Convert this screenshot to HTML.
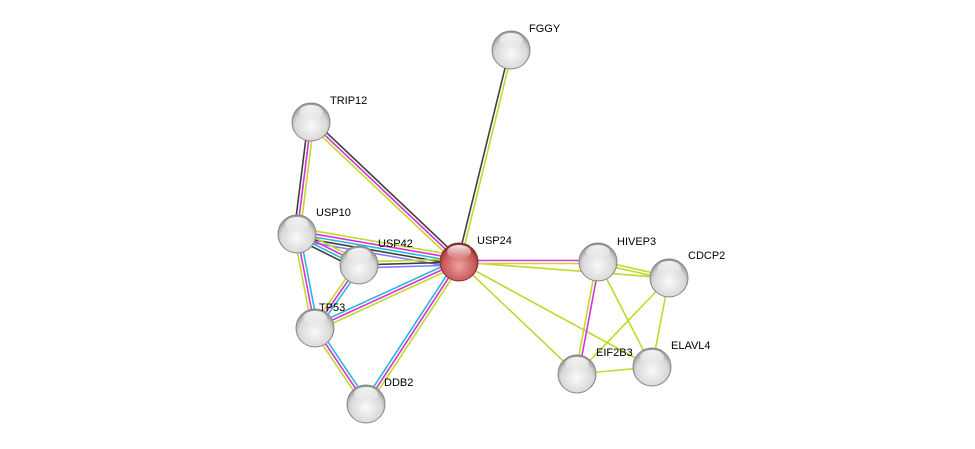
<!DOCTYPE html>
<html><head><meta charset="utf-8"><style>
html,body{margin:0;padding:0;background:#fff;width:975px;height:449px;overflow:hidden}
text{font-family:"Liberation Sans",sans-serif;font-size:11px;fill:#000}
</style></head><body>
<svg id="s" width="975" height="449" viewBox="0 0 975 449" xmlns="http://www.w3.org/2000/svg">
<defs>
<radialGradient id="g" cx="0.5" cy="0.6" r="0.6">
<stop offset="0" stop-color="#fafafa"/><stop offset="0.7" stop-color="#d8d8d8"/><stop offset="1" stop-color="#8a8a8a"/></radialGradient>
<radialGradient id="r" cx="0.5" cy="0.6" r="0.6">
<stop offset="0" stop-color="#f0a0a0"/><stop offset="0.7" stop-color="#c85a5a"/><stop offset="1" stop-color="#7a2a2a"/></radialGradient>
<linearGradient id="h" x1="0" y1="0" x2="0" y2="1"><stop offset="0" stop-color="#fff" stop-opacity="0.9"/><stop offset="1" stop-color="#fff" stop-opacity="0"/></linearGradient>
</defs>
<g id="e"></g><g id="n"></g>
</svg>
<script>
var N={FGGY:[511,50],TRIP12:[311,122],USP10:[297,234],USP42:[359,265],USP24:[459,262],TP53:[315,328],DDB2:[366,404],HIVEP3:[598,262],CDCP2:[669,278],EIF2B3:[577,374],ELAVL4:[652,367]};
var Y="#c2d82c",M="#d633d6",C="#2ab8d8",K="#404040",B="#8080ff";
var E=[["USP24","FGGY",[K,Y]],["USP24","TRIP12",[Y,M,K]],["TRIP12","USP10",[Y,M,K]],["USP10","USP24",[Y,M,C,K,B]],["USP42","USP24",[Y,K,B]],["USP10","USP42",[Y,M,C,K]],["USP10","TP53",[C,M,Y]],["USP42","TP53",[C,M,Y]],["TP53","USP24",[C,M,Y]],["TP53","DDB2",[C,M,Y]],["DDB2","USP24",[C,M,Y]],["USP24","HIVEP3",[M,Y]],["USP24","CDCP2",[Y]],["USP24","EIF2B3",[Y]],["USP24","ELAVL4",[Y]],["HIVEP3","CDCP2",[Y,Y]],["HIVEP3","EIF2B3",[M,Y]],["HIVEP3","ELAVL4",[Y]],["CDCP2","EIF2B3",[Y]],["CDCP2","ELAVL4",[Y]],["EIF2B3","ELAVL4",[Y]]];
var ns="http://www.w3.org/2000/svg",eg=document.getElementById("e"),ng=document.getElementById("n");
E.forEach(function(x){var a=N[x[0]],b=N[x[1]],dx=b[0]-a[0],dy=b[1]-a[1],l=Math.hypot(dx,dy),px=-dy/l,py=dx/l,k=x[2].length;
x[2].forEach(function(c,i){var o=(i-(k-1)/2)*3;var L=document.createElementNS(ns,"line");
L.setAttribute("x1",a[0]+px*o);L.setAttribute("y1",a[1]+py*o);L.setAttribute("x2",b[0]+px*o);L.setAttribute("y2",b[1]+py*o);
L.setAttribute("stroke",c);L.setAttribute("stroke-width",1.6);eg.appendChild(L);});});
var lab={FGGY:[18,-18],TRIP12:[19,-18],USP10:[19,-18],USP42:[19,-18],USP24:[18,-18],TP53:[4,-17],DDB2:[18,-18],HIVEP3:[19,-17],CDCP2:[19,-19],EIF2B3:[19,-18],ELAVL4:[19,-18]};
for(var k in N){var p=N[k],c=document.createElementNS(ns,"circle");c.setAttribute("cx",p[0]);c.setAttribute("cy",p[1]);c.setAttribute("r",19);
c.setAttribute("fill",k=="USP24"?"url(#r)":"url(#g)");c.setAttribute("stroke",k=="USP24"?"#8a3030":"#888");c.setAttribute("stroke-width",1);ng.appendChild(c);
var h=document.createElementNS(ns,"ellipse");h.setAttribute("cx",p[0]);h.setAttribute("cy",p[1]-10);h.setAttribute("rx",12);h.setAttribute("ry",7);h.setAttribute("fill","url(#h)");ng.appendChild(h);
var t=document.createElementNS(ns,"text");t.setAttribute("x",p[0]+lab[k][0]);t.setAttribute("y",p[1]+lab[k][1]);t.textContent=k;ng.appendChild(t);}
</script>
</body></html>
